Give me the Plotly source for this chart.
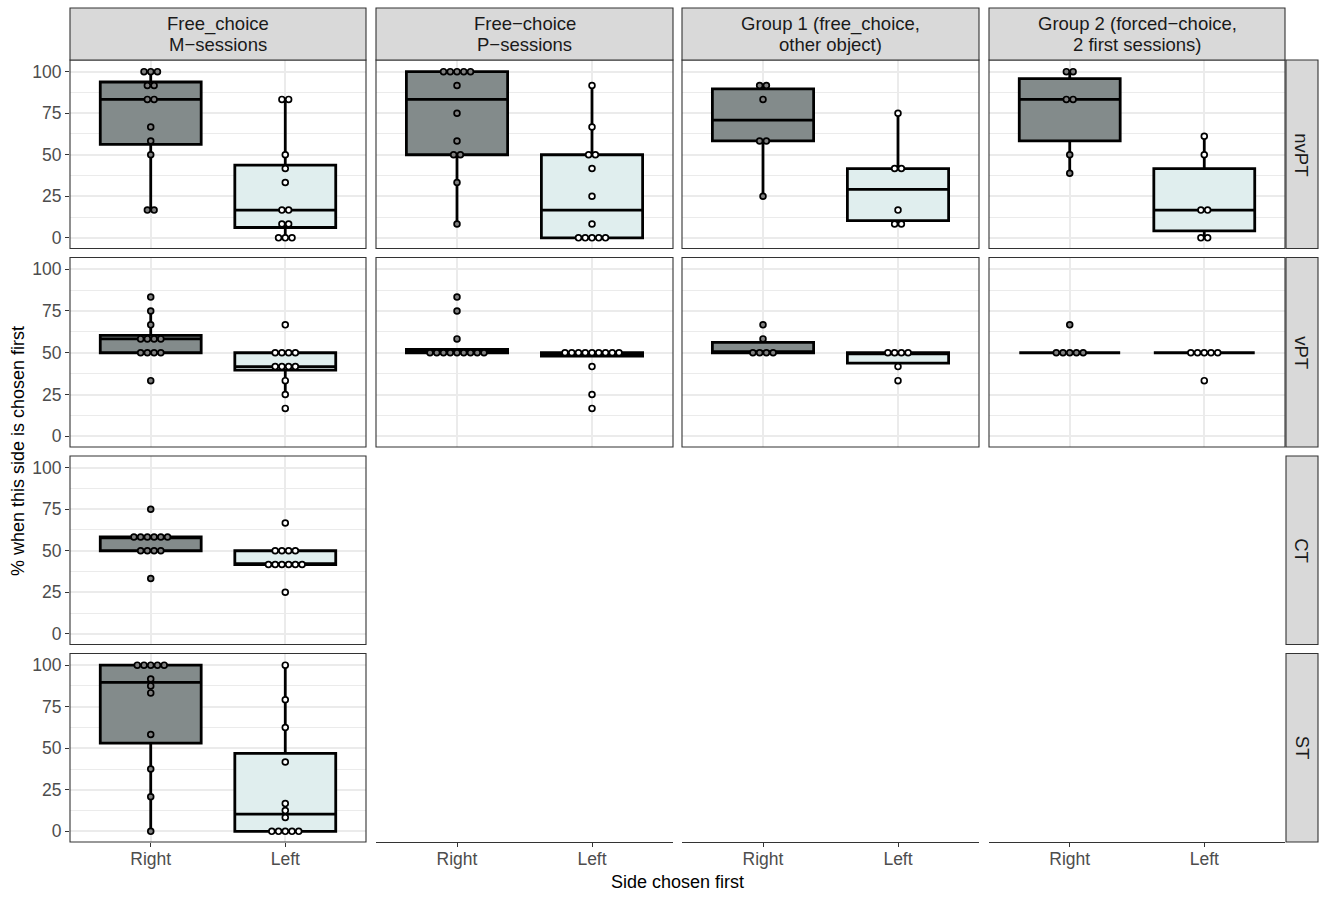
import numpy as np
import plotly.graph_objects as go

# ---------------- data ----------------
col_labels = [["Free_choice", "M\u2212sessions"],
              ["Free\u2212choice", "P\u2212sessions"],
              ["Group 1 (free_choice,", "other object)"],
              ["Group 2 (forced\u2212choice,", "2 first sessions)"]]
row_labels = ["nvPT", "vPT", "CT", "ST"]
sides = ["Right", "Left"]
y_ticks = [0, 25, 50, 75, 100]
y_minor = [12.5, 37.5, 62.5, 87.5]
x_title = "Side chosen first"
y_title = "% when this side is chosen first"

# nvPT
nvpt_m_right = [100, 100, 100, 91.7, 91.7, 83.3, 83.3, 66.7, 58.3, 50, 16.7, 16.7]
nvpt_m_left = [83.3, 83.3, 50, 41.7, 33.3, 16.7, 16.7, 8.3, 8.3, 0, 0, 0]
nvpt_p_right = [100, 100, 100, 100, 100, 91.7, 75, 58.3, 50, 50, 33.3, 8.3]
nvpt_p_left = [91.7, 66.7, 50, 50, 41.7, 25, 8.3, 0, 0, 0, 0, 0]
nvpt_g1_right = [91.7, 91.7, 83.3, 58.3, 58.3, 25]
nvpt_g1_left = [75, 41.7, 41.7, 16.7, 8.3, 8.3]
nvpt_g2_right = [100, 100, 83.3, 83.3, 50, 38.9]
nvpt_g2_left = [61.1, 50, 16.7, 16.7, 0, 0]
# vPT
vpt_m_right = [83.3, 75, 66.7, 58.3, 58.3, 58.3, 58.3, 50, 50, 50, 50, 33.3]
vpt_m_left = [66.7, 50, 50, 50, 50, 41.7, 41.7, 41.7, 41.7, 33.3, 25, 16.7]
vpt_p_right = [83.3, 75, 58.3, 50, 50, 50, 50, 50, 50, 50, 50, 50]
vpt_p_left = [50, 50, 50, 50, 50, 50, 50, 50, 50, 41.7, 25, 16.7]
vpt_g1_right = [66.7, 58.3, 50, 50, 50, 50]
vpt_g1_left = [50, 50, 50, 50, 41.7, 33.3]
vpt_g2_right = [66.7, 50, 50, 50, 50, 50]
vpt_g2_left = [50, 50, 50, 50, 50, 33.3]
# CT
ct_m_right = [75, 58.3, 58.3, 58.3, 58.3, 58.3, 58.3, 50, 50, 50, 50, 33.3]
ct_m_left = [66.7, 50, 50, 50, 50, 41.7, 41.7, 41.7, 41.7, 41.7, 41.7, 25]
# ST
st_m_right = [100, 100, 100, 100, 100, 91.7, 87.5, 83.3, 58.3, 37.5, 20.8, 0]
st_m_left = [100, 79.2, 62.5, 41.7, 16.7, 12.5, 8.3, 0, 0, 0, 0, 0]

panels = [
    (0, 0, nvpt_m_right, nvpt_m_left), (0, 1, nvpt_p_right, nvpt_p_left),
    (0, 2, nvpt_g1_right, nvpt_g1_left), (0, 3, nvpt_g2_right, nvpt_g2_left),
    (1, 0, vpt_m_right, vpt_m_left), (1, 1, vpt_p_right, vpt_p_left),
    (1, 2, vpt_g1_right, vpt_g1_left), (1, 3, vpt_g2_right, vpt_g2_left),
    (2, 0, ct_m_right, ct_m_left),
    (3, 0, st_m_right, st_m_left),
]

# ---------------- style / layout ----------------
W, H = 1326, 900
col_x = [(70, 366), (376, 673), (682, 979), (989, 1285)]
row_y = [(60, 248.5), (257.5, 447), (456, 644.5), (653.5, 842)]
strip_top = (8, 60)
strip_right = (1286, 1318)
Y_RANGE = [-6.4, 107]
X_RANGE = [0.4, 2.6]
BOX_FILL = ["#838B8B", "#E0EEEE"]
DOT_FILL = ["#808080", "#FFFFFF"]
GRID = "#EBEBEB"
BORDER = "#333333"
FONT = "Liberation Sans, Arial, sans-serif"
DOT_STEP = 0.05


def fx(px):
    return px / W


def fy(py):
    return 1 - py / H


def box_stats(v):
    v = np.asarray(v, dtype=float)
    q1, med, q3 = np.percentile(v, [25, 50, 75])
    iqr = q3 - q1
    lo = v[v >= q1 - 1.5 * iqr].min()
    hi = v[v <= q3 + 1.5 * iqr].max()
    return q1, med, q3, lo, hi


def dot_positions(v, center):
    xs, ys = [], []
    vals, counts = np.unique(np.round(v, 3), return_counts=True)
    for val, n in zip(vals, counts):
        for i in range(n):
            xs.append(center + (i - (n - 1) / 2) * DOT_STEP)
            ys.append(val)
    return xs, ys


fig = go.Figure()
layout = dict(width=W, height=H, margin=dict(l=0, r=0, t=0, b=0, pad=0),
              paper_bgcolor="white", plot_bgcolor="white", showlegend=False,
              font=dict(family=FONT, color="#4D4D4D"))
shapes = []
annotations = []


def axname(prefix, k):
    return prefix + ("axis" if k == 1 else f"axis{k}")


def ref(prefix, k):
    return prefix + ("" if k == 1 else str(k))


TICKFONT = dict(size=17.5, color="#4D4D4D", family=FONT)

k = 0
for (r, c, right_vals, left_vals) in panels:
    k += 1
    x0, x1 = col_x[c]
    y0, y1 = row_y[r]
    bottom = (r == 3)
    left = (c == 0)
    layout[axname("x", k)] = dict(
        domain=[fx(x0), fx(x1)], range=X_RANGE, anchor=ref("y", k),
        tickvals=[1, 2], ticktext=sides, showgrid=True, gridcolor=GRID, gridwidth=1.6,
        zeroline=False, showline=False, ticks="outside" if bottom else "",
        showticklabels=bottom, ticklen=4, tickwidth=1.1, tickcolor=BORDER,
        ticklabelstandoff=-3, tickfont=TICKFONT, fixedrange=True)
    layout[axname("y", k)] = dict(
        domain=[fy(y1), fy(y0)], range=Y_RANGE, anchor=ref("x", k),
        tickvals=y_ticks, showgrid=True, gridcolor=GRID, gridwidth=1.6,
        minor=dict(tickvals=y_minor, showgrid=True, gridcolor=GRID, gridwidth=0.8, ticks=""),
        zeroline=False, showline=False, ticks="outside" if left else "",
        showticklabels=left, ticklen=4, tickwidth=1.1, tickcolor=BORDER,
        tickfont=TICKFONT, fixedrange=True)
    for si, vals in enumerate([right_vals, left_vals]):
        pos = si + 1
        q1, med, q3, lo, hi = box_stats(vals)
        fig.add_trace(go.Box(
            x=[pos], q1=[q1], median=[med], q3=[q3], lowerfence=[lo], upperfence=[hi],
            width=0.75, fillcolor=BOX_FILL[si], line=dict(color="black", width=2.8),
            boxpoints=False, whiskerwidth=0, hoverinfo="skip",
            xaxis=ref("x", k), yaxis=ref("y", k)))
    for si, vals in enumerate([right_vals, left_vals]):
        xs, ys = dot_positions(vals, si + 1)
        fig.add_trace(go.Scatter(
            x=xs, y=ys, mode="markers",
            marker=dict(size=5.8, color=DOT_FILL[si], line=dict(color="black", width=1.7)),
            hoverinfo="skip", xaxis=ref("x", k), yaxis=ref("y", k)))
    shapes.append(dict(type="rect", xref="paper", yref="paper", x0=fx(x0), x1=fx(x1),
                       y0=fy(y1), y1=fy(y0), line=dict(color=BORDER, width=1.1),
                       fillcolor="rgba(0,0,0,0)", layer="above"))

# bottom axes for columns without lower panels
for c in range(1, 4):
    k += 1
    x0, x1 = col_x[c]
    y0, y1 = row_y[3]
    layout[axname("x", k)] = dict(
        domain=[fx(x0), fx(x1)], range=X_RANGE, anchor=ref("y", k),
        tickvals=[1, 2], ticktext=sides, showgrid=False, zeroline=False,
        showline=True, linecolor=BORDER, linewidth=1.1, ticks="outside",
        ticklen=4, tickwidth=1.1, tickcolor=BORDER, ticklabelstandoff=-3,
        tickfont=TICKFONT, fixedrange=True)
    layout[axname("y", k)] = dict(domain=[fy(y1), fy(y0)], range=Y_RANGE,
                                  anchor=ref("x", k), visible=False, fixedrange=True)
    fig.add_trace(go.Scatter(x=[], y=[], mode="markers", xaxis=ref("x", k), yaxis=ref("y", k)))

# strips
for c, lines in enumerate(col_labels):
    x0, x1 = col_x[c]
    shapes.append(dict(type="rect", xref="paper", yref="paper", x0=fx(x0), x1=fx(x1),
                       y0=fy(strip_top[1]), y1=fy(strip_top[0]), fillcolor="#D9D9D9",
                       line=dict(color=BORDER, width=1.1), layer="above"))
    for li, txt in enumerate(lines):
        annotations.append(dict(text=txt, xref="paper", yref="paper",
                                x=fx((x0 + x1) / 2), y=fy(24 + li * 20.5),
                                xanchor="center", yanchor="middle", showarrow=False,
                                font=dict(size=18.5, color="#1A1A1A", family=FONT)))
for r, lab in enumerate(row_labels):
    y0, y1 = row_y[r]
    shapes.append(dict(type="rect", xref="paper", yref="paper", x0=fx(strip_right[0]),
                       x1=fx(strip_right[1]), y0=fy(y1), y1=fy(y0), fillcolor="#D9D9D9",
                       line=dict(color=BORDER, width=1.1), layer="above"))
    annotations.append(dict(text=lab, xref="paper", yref="paper",
                            x=fx((strip_right[0] + strip_right[1]) / 2), y=fy((y0 + y1) / 2),
                            xanchor="center", yanchor="middle", showarrow=False, textangle=90,
                            font=dict(size=18.5, color="#1A1A1A", family=FONT)))

# axis titles
annotations.append(dict(text=x_title, xref="paper", yref="paper",
                        x=fx((col_x[0][0] + col_x[3][1]) / 2), y=fy(882),
                        xanchor="center", yanchor="middle", showarrow=False,
                        font=dict(size=18, color="black", family=FONT)))
annotations.append(dict(text=y_title, xref="paper", yref="paper",
                        x=fx(18), y=fy((row_y[0][0] + row_y[3][1]) / 2),
                        xanchor="center", yanchor="middle", showarrow=False, textangle=-90,
                        font=dict(size=18, color="black", family=FONT)))

layout["shapes"] = shapes
layout["annotations"] = annotations
fig.update_layout(**layout)
fig.write_html("out.html")
